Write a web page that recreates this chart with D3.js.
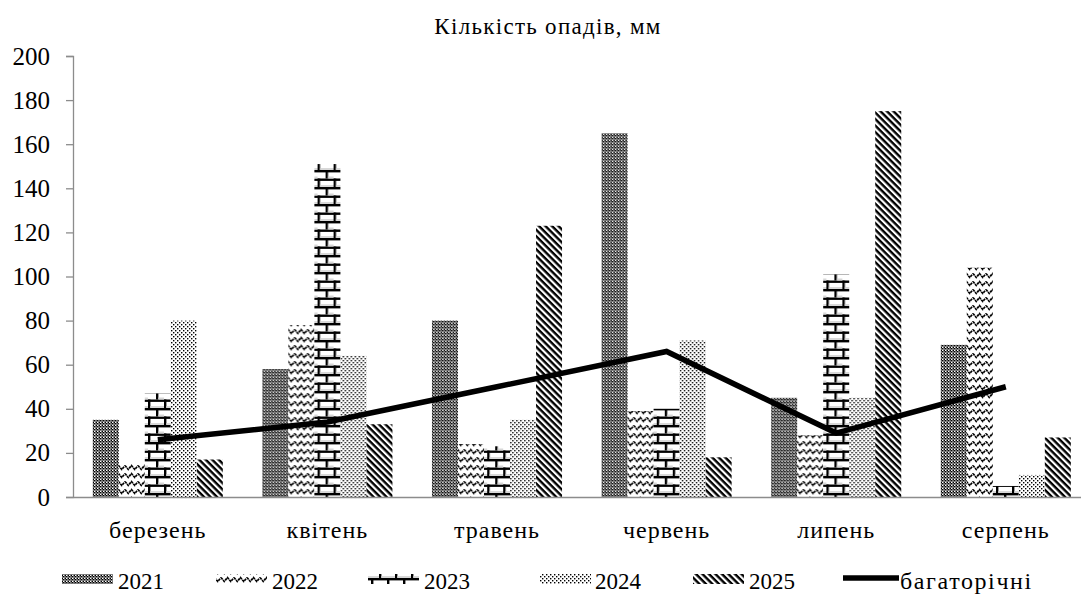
<!DOCTYPE html>
<html lang="uk">
<head>
<meta charset="utf-8">
<script src="https://cdn.jsdelivr.net/npm/d3@7"></script>
<style>
  html, body { margin: 0; padding: 0; background: #fff; }
  svg { display: block; }
  svg text { font-family: "Liberation Serif", "Times New Roman", "Liberation Sans", Arial, sans-serif !important; }
</style>
</head>
<body>
<svg id="chart" width="1081" height="595"></svg>
<script>
// Monthly precipitation, mm
const months = ["березень", "квітень", "травень", "червень", "липень", "серпень"];
const years = ["2021", "2022", "2023", "2024", "2025"];
const values2021 = [35, 58, 80, 165, 45, 69];
const values2022 = [15, 78, 24, 39, 28, 104];
const values2023 = [47, 151, 23, 40, 101, 5];
const values2024 = [80, 64, 35, 71, 45, 10];
const values2025 = [17, 33, 123, 18, 175, 27];
const longTerm = [26, 34, 50, 66, 29, 50];
const yTicks = [0, 20, 40, 60, 80, 100, 120, 140, 160, 180, 200];
const titleText = "Кількість опадів, мм";
const lineLabel = "багаторічні";

const seriesByYear = {
  "2021": values2021, "2022": values2022, "2023": values2023,
  "2024": values2024, "2025": values2025
};

const svg = d3.select("#chart");
const H = 595;
const plotTop = 56, plotBottom = H - 98;

// fill patterns, one per year
const defs = svg.append("defs");

const p1 = defs.append("pattern").attr("id", "pat2021")
  .attr("patternUnits", "userSpaceOnUse").attr("width", 3).attr("height", 3);
p1.append("rect").attr("width", 3).attr("height", 3).attr("fill", "#fff");
p1.append("rect").attr("x", 0).attr("y", 0).attr("width", 1.5).attr("height", 1.5).attr("fill", "#000");
p1.append("rect").attr("x", 1.5).attr("y", 1.5).attr("width", 1.5).attr("height", 1.5).attr("fill", "#000");
p1.append("rect").attr("x", 1.5).attr("y", 0).attr("width", 1.5).attr("height", 1.5).attr("fill", "#666");

const p2 = defs.append("pattern").attr("id", "pat2022")
  .attr("patternUnits", "userSpaceOnUse").attr("width", 13).attr("height", 8);
p2.append("rect").attr("width", 13).attr("height", 8).attr("fill", "#fff");
p2.append("path").attr("d", "M0,1.5 L3.25,5.5 L6.5,1.5 L9.75,5.5 L13,1.5")
  .attr("fill", "none").attr("stroke", "#000").attr("stroke-width", 1.7)
  .attr("stroke-dasharray", "2.6,0.7");

const p3 = defs.append("pattern").attr("id", "pat2023")
  .attr("patternUnits", "userSpaceOnUse").attr("width", 16).attr("height", 17);
p3.append("rect").attr("width", 16).attr("height", 17).attr("fill", "#fff");
p3.append("rect").attr("x", 0).attr("y", 0).attr("width", 16).attr("height", 2.4).attr("fill", "#000");
p3.append("rect").attr("x", 0).attr("y", 8.5).attr("width", 16).attr("height", 2.4).attr("fill", "#000");
p3.append("rect").attr("x", 3).attr("y", 0).attr("width", 2.4).attr("height", 8.5).attr("fill", "#000");
p3.append("rect").attr("x", 11).attr("y", 8.5).attr("width", 2.4).attr("height", 8.5).attr("fill", "#000");
p3.append("rect").attr("x", 5.4).attr("y", 6.5).attr("width", 5.6).attr("height", 2).attr("fill", "#d8d8d8");
p3.append("rect").attr("x", 13.4).attr("y", 15).attr("width", 2.6).attr("height", 2).attr("fill", "#d8d8d8");
p3.append("rect").attr("x", 0).attr("y", 15).attr("width", 11).attr("height", 2).attr("fill", "#d8d8d8");

const p4 = defs.append("pattern").attr("id", "pat2024")
  .attr("patternUnits", "userSpaceOnUse").attr("width", 4).attr("height", 4);
p4.append("rect").attr("width", 4).attr("height", 4).attr("fill", "#fff");
p4.append("rect").attr("x", 0).attr("y", 0).attr("width", 1.4).attr("height", 1.4).attr("fill", "#000");
p4.append("rect").attr("x", 2).attr("y", 2).attr("width", 1.4).attr("height", 1.4).attr("fill", "#000");

const p5 = defs.append("pattern").attr("id", "pat2025")
  .attr("patternUnits", "userSpaceOnUse").attr("width", 4.6).attr("height", 4.6)
  .attr("patternTransform", "rotate(45)");
p5.append("rect").attr("width", 4.6).attr("height", 4.6).attr("fill", "#fff");
p5.append("rect").attr("x", 0).attr("y", 0).attr("width", 4.6).attr("height", 2.4).attr("fill", "#000");

const fills = {
  "2021": "url(#pat2021)", "2022": "url(#pat2022)", "2023": "url(#pat2023)",
  "2024": "url(#pat2024)", "2025": "url(#pat2025)"
};

// scales
const x0 = d3.scaleBand().domain(months).range([73, 1090.6]).padding(0);
const x1 = d3.scaleBand().domain(years).range([0, x0.bandwidth()])
  .paddingInner(0).paddingOuter(0.76);
const y = d3.scaleLinear().domain([0, 200]).range([plotBottom, plotTop]);

// title
svg.append("text")
  .attr("x", 548).attr("y", 34)
  .attr("text-anchor", "middle")
  .attr("font-size", 23)
  .attr("letter-spacing", 1.3)
  .attr("fill", "#000")
  .text(titleText);

// bars
const groups = svg.append("g").selectAll("g")
  .data(months).join("g")
  .attr("transform", d => `translate(${x0(d)},0)`);

groups.selectAll("rect")
  .data((m, i) => years.map(yr => ({ year: yr, value: seriesByYear[yr][i] })))
  .join("rect")
  .attr("x", d => x1(d.year))
  .attr("width", x1.bandwidth())
  .attr("y", d => y(d.value))
  .attr("height", d => y(0) - y(d.value))
  .attr("fill", d => fills[d.year]);

// axes
const yAxis = svg.append("g")
  .attr("transform", `translate(73,0)`)
  .call(d3.axisLeft(y).tickValues(yTicks).tickSize(7).tickPadding(16).tickFormat(d3.format("d")));
yAxis.select(".domain").attr("stroke", "#8c8c8c").attr("stroke-width", 1.3);
yAxis.selectAll(".tick line").attr("stroke", "#8c8c8c").attr("stroke-width", 1.3);
yAxis.selectAll(".tick text").attr("font-size", 25).attr("fill", "#000");

const xAxis = svg.append("g")
  .attr("transform", `translate(0,${plotBottom})`)
  .call(d3.axisBottom(x0).tickSize(0).tickPadding(24).tickSizeOuter(0));
xAxis.select(".domain").attr("stroke", "#8c8c8c").attr("stroke-width", 1.3);
xAxis.selectAll(".tick text")
  .attr("font-size", 24).attr("letter-spacing", 1).attr("fill", "#000");

// long-term average line
const line = d3.line()
  .x((d, i) => x0(months[i]) + x0.bandwidth() / 2)
  .y(d => y(d));
svg.append("path")
  .datum(longTerm)
  .attr("d", line)
  .attr("fill", "none")
  .attr("stroke", "#000")
  .attr("stroke-width", 5.5)
  .attr("stroke-linejoin", "miter");

// legend
const legendItems = [
  { key: "2021", sx: 62, tx: 118 },
  { key: "2022", sx: 216, tx: 272 },
  { key: "2023", sx: 368, tx: 424 },
  { key: "2024", sx: 540, tx: 595 },
  { key: "2025", sx: 693, tx: 749 }
];
const legend = svg.append("g");
legendItems.forEach(it => {
  legend.append("rect")
    .attr("x", it.sx).attr("y", 574).attr("width", 51).attr("height", 10)
    .attr("fill", fills[it.key]);
  legend.append("text")
    .attr("x", it.tx).attr("y", 589)
    .attr("font-size", 23).attr("fill", "#000")
    .text(it.key);
});
legend.append("line")
  .attr("x1", 843).attr("x2", 899).attr("y1", 578).attr("y2", 578)
  .attr("stroke", "#000").attr("stroke-width", 5.5);
legend.append("text")
  .attr("x", 900).attr("y", 589)
  .attr("font-size", 24).attr("letter-spacing", 1.6).attr("fill", "#000")
  .text(lineLabel);
</script>
</body>
</html>
